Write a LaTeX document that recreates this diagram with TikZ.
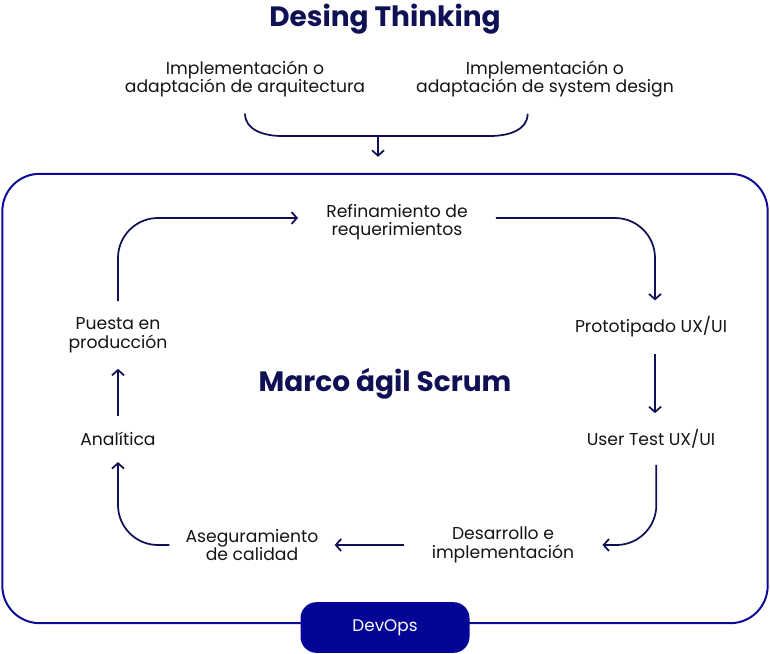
\documentclass[tikz,border=0pt]{standalone}
\usepackage{fontspec}
\setmainfont{Poppins}
\usepackage{xcolor}
\usetikzlibrary{arrows.meta, positioning, calc}
\definecolor{navy}{RGB}{16,16,84}
\definecolor{scrumblue}{RGB}{12,12,150}
\definecolor{devblue}{RGB}{4,4,150}
\definecolor{ink}{RGB}{20,20,20}

\begin{document}
\begin{tikzpicture}[x=0.75pt, y=-0.75pt, % one unit = one pixel of the reference
		title/.style={font=\bfseries\fontsize{21}{25}\selectfont, text=navy},
		stage/.style={align=center, text=ink, font=\fontsize{12.9}{14}\selectfont, inner xsep=21pt, inner ysep=12pt},
		line/.style={draw=navy, line width=1.3pt},
		arrow/.style={line, -{Straight Barb[length=4pt, width=9pt]}},
		frame/.style={rectangle, draw=scrumblue, line width=1.5pt, rounded corners=28pt, minimum width=574pt, minimum height=337pt},
		devops/.style={rectangle, fill=devblue, rounded corners=12pt, minimum width=126.75pt, minimum height=38pt, text=white, font=\fontsize{12.6}{15}\selectfont}
		]
		\useasboundingbox (0,0) rectangle (770,653);
		
		% Design thinking inputs
		\node[title] (design) at (385,19) {Desing Thinking};
		\node[stage] (arqui) at (245,79) {Implementación o\\adaptación de arquitectura};
		\node[stage] (sysdes) at (545,79) {Implementación o\\adaptación de system design};
		\coordinate (bl) at (282,136);
		\coordinate (br) at (490,136);
		\coordinate (merge) at (378,136);
		\draw[line] (arqui.south) to[out=-90, in=180] (bl) -- (br) to[out=0, in=-90] ([xshift=-13pt]sysdes.south);
		
		% Scrum frame
		\node[frame] (scrum) at (385,398.5) {};
		\draw[arrow, shorten >=12pt] (merge) -- (merge |- scrum.north);
		\node[title] (marco) at (385,384) {Marco ágil Scrum};
		\node[devops, yshift=-2.5pt] (devops) at (scrum.south) {DevOps};
		
		% Cycle
		\node[stage] (refin) at (397,222) {Refinamiento de\\requerimientos};
		\node[stage] (proto) at (651,327) {Prototipado UX/UI};
		\node[stage] (usert) at (651,439) {User Test UX/UI};
		\node[stage] (desa) at (503,545) {Desarrollo e\\implementación};
		\node[stage, inner xsep=12pt] (asegu) at (252,545) {Aseguramiento\\de calidad};
		\node[stage] (anal) at (118,439) {Analítica};
		\node[stage] (puesta) at (118,335) {Puesta en\\producción};
		
		\draw[arrow, rounded corners=30pt] (puesta.north) |- ([yshift=3pt]refin.west);
		\draw[arrow, rounded corners=30pt] ([yshift=3pt]refin.east) -| ([xshift=3pt]proto.north);
		\draw[arrow] ([xshift=3pt]proto.south) -- ([xshift=3pt]usert.north);
		\draw[arrow, rounded corners=30pt] ([xshift=4pt]usert.south) |- (desa.east);
		\draw[arrow] (desa.west) -- (asegu.east);
		\draw[arrow, rounded corners=30pt] (asegu.west) -| (anal.south);
		\draw[arrow] (anal.north) -- (puesta.south);
		
\end{tikzpicture}
\end{document}
